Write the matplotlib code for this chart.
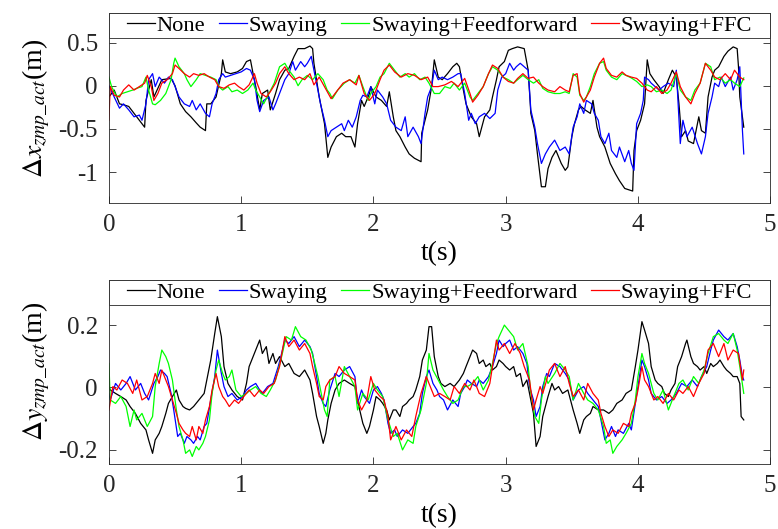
# ZMP deviation comparison, two panels (x and y)
import numpy as np
import matplotlib.pyplot as plt
from matplotlib.patches import Rectangle

plt.rcParams['font.family'] = ['Liberation Serif', 'DejaVu Serif']
plt.rcParams['mathtext.fontset'] = 'stix'

labels = ["None", "Swaying", "Swaying+Feedforward", "Swaying+FFC"]
colors = ["#000000", "#0000ff", "#00ff00", "#ff0000"]

# ---- delta x zmp (m), (t, value) pairs ----
dx_none = [(0, -0.13), (0.04, -0.05), (0.08, -0.21), (0.11, -0.22), (0.15, -0.24), (0.19, -0.32),
           (0.23, -0.40), (0.27, -0.48), (0.28, -0.17), (0.32, 0.07), (0.34, -0.13), (0.40, 0.07),
           (0.47, 0.085), (0.50, 0.0), (0.54, -0.21), (0.58, -0.30), (0.62, -0.36), (0.66, -0.43),
           (0.69, -0.48), (0.73, -0.52), (0.74, -0.21), (0.77, -0.21), (0.81, -0.13), (0.85, 0.14),
           (0.86, 0.30), (0.88, 0.16), (0.92, 0.14), (0.97, 0.16), (1.01, 0.20), (1.04, 0.28),
           (1.07, 0.30), (1.09, 0.14), (1.11, -0.01), (1.14, -0.28), (1.16, -0.09), (1.20, -0.05),
           (1.22, -0.28), (1.26, -0.09), (1.29, 0.07), (1.33, 0.18), (1.36, 0.20), (1.40, 0.34),
           (1.43, 0.43), (1.48, 0.43), (1.52, 0.46), (1.54, 0.43), (1.55, 0.26), (1.59, -0.13),
           (1.63, -0.44), (1.655, -0.83), (1.68, -0.71), (1.72, -0.59), (1.76, -0.55), (1.79, -0.59),
           (1.83, -0.59), (1.86, -0.71), (1.88, -0.44), (1.91, -0.17), (1.93, -0.24), (1.97, -0.09),
           (1.98, -0.01), (2.02, -0.13), (2.06, -0.17), (2.10, -0.24), (2.12, -0.07), (2.15, -0.36),
           (2.17, -0.52), (2.20, -0.59), (2.24, -0.71), (2.27, -0.79), (2.31, -0.84), (2.36, -0.88),
           (2.365, -0.55), (2.39, -0.40), (2.41, -0.28), (2.44, -0.01), (2.46, 0.30), (2.49, 0.10),
           (2.52, 0.07), (2.56, 0.14), (2.60, 0.22), (2.63, 0.26), (2.65, 0.22), (2.68, -0.05),
           (2.70, -0.21), (2.74, -0.36), (2.78, -0.44), (2.80, -0.59), (2.84, -0.36), (2.88, -0.28),
           (2.90, -0.13), (2.93, 0.07), (2.95, 0.22), (2.99, 0.28), (3.02, 0.41), (3.05, 0.43),
           (3.09, 0.45), (3.14, 0.43), (3.17, 0.18), (3.19, -0.32), (3.22, -0.52), (3.24, -0.79),
           (3.27, -1.17), (3.30, -1.17), (3.32, -0.96), (3.35, -0.83), (3.38, -0.75), (3.42, -0.90),
           (3.45, -0.98), (3.47, -0.94), (3.50, -0.59), (3.52, -0.44), (3.55, -0.28), (3.57, -0.24),
           (3.60, -0.28), (3.64, -0.32), (3.66, -0.17), (3.69, -0.48), (3.71, -0.59), (3.75, -0.71),
           (3.79, -0.90), (3.83, -1.02), (3.86, -1.10), (3.90, -1.19), (3.96, -1.22), (3.97, -0.75),
           (3.99, -0.52), (4.02, -0.40), (4.05, -0.21), (4.07, 0.30), (4.09, 0.14), (4.12, 0.07),
           (4.16, -0.01), (4.19, -0.09), (4.23, 0.07), (4.26, 0.18), (4.29, 0.10), (4.31, -0.21),
           (4.33, -0.59), (4.36, -0.52), (4.38, -0.64), (4.42, -0.67), (4.46, -0.36), (4.48, -0.52),
           (4.51, -0.55), (4.53, -0.13), (4.56, 0.10), (4.58, 0.18), (4.61, 0.22), (4.65, 0.34),
           (4.68, 0.40), (4.72, 0.45), (4.75, 0.43), (4.76, 0.22), (4.77, -0.13), (4.80, -0.48)]

dx_sway = [(0, 0.0), (0.04, -0.13), (0.08, -0.26), (0.11, -0.21), (0.15, -0.28), (0.19, -0.36),
           (0.23, -0.34), (0.25, -0.40), (0.28, -0.21), (0.30, 0.07), (0.33, 0.14), (0.35, -0.01),
           (0.38, 0.10), (0.42, 0.03), (0.45, 0.10), (0.48, 0.07), (0.50, -0.01), (0.53, -0.13),
           (0.57, -0.21), (0.61, -0.24), (0.63, -0.17), (0.66, -0.28), (0.69, -0.21), (0.73, -0.32),
           (0.76, -0.36), (0.78, -0.21), (0.81, -0.09), (0.83, 0.07), (0.86, 0.14), (0.88, 0.10),
           (0.92, 0.12), (0.96, 0.14), (1.00, 0.16), (1.04, 0.20), (1.07, 0.18), (1.10, 0.07),
           (1.12, -0.17), (1.14, -0.30), (1.17, -0.17), (1.21, -0.13), (1.24, -0.28), (1.26, -0.21),
           (1.29, -0.09), (1.33, 0.07), (1.36, 0.14), (1.39, 0.28), (1.41, 0.18), (1.45, 0.28),
           (1.48, 0.22), (1.50, 0.26), (1.53, 0.34), (1.55, 0.18), (1.58, -0.05), (1.60, -0.21),
           (1.63, -0.40), (1.655, -0.59), (1.68, -0.52), (1.72, -0.48), (1.76, -0.44), (1.78, -0.52),
           (1.81, -0.40), (1.84, -0.48), (1.87, -0.36), (1.90, -0.17), (1.92, -0.11), (1.95, -0.13),
           (1.98, -0.01), (2.01, -0.21), (2.03, -0.05), (2.07, -0.13), (2.10, -0.21), (2.13, -0.40),
           (2.17, -0.48), (2.21, -0.52), (2.24, -0.36), (2.26, -0.59), (2.30, -0.48), (2.34, -0.59),
           (2.36, -0.67), (2.39, -0.32), (2.41, -0.13), (2.44, -0.01), (2.46, 0.18), (2.49, 0.07),
           (2.52, 0.10), (2.56, 0.07), (2.60, 0.10), (2.64, 0.14), (2.66, 0.14), (2.69, -0.09),
           (2.72, -0.40), (2.74, -0.32), (2.77, -0.44), (2.80, -0.36), (2.84, -0.32), (2.88, -0.38),
           (2.92, -0.32), (2.94, -0.05), (2.97, 0.10), (3.00, 0.14), (3.03, 0.26), (3.06, 0.18),
           (3.08, 0.22), (3.11, 0.26), (3.14, 0.22), (3.17, 0.18), (3.19, -0.28), (3.22, -0.48),
           (3.24, -0.67), (3.27, -0.90), (3.30, -0.79), (3.33, -0.71), (3.37, -0.63), (3.41, -0.75),
           (3.45, -0.71), (3.48, -0.79), (3.51, -0.48), (3.54, -0.36), (3.56, -0.21), (3.59, -0.32),
           (3.61, -0.17), (3.65, -0.21), (3.67, -0.32), (3.70, -0.40), (3.72, -0.59), (3.75, -0.67),
           (3.78, -0.55), (3.80, -0.75), (3.84, -0.83), (3.86, -0.71), (3.90, -0.88), (3.93, -0.75),
           (3.95, -0.90), (3.97, -0.98), (3.99, -0.44), (4.02, -0.32), (4.04, -0.17), (4.05, 0.10),
           (4.08, 0.07), (4.10, 0.03), (4.16, -0.05), (4.19, -0.01), (4.23, 0.03), (4.27, -0.01),
           (4.29, 0.18), (4.32, -0.67), (4.34, -0.40), (4.37, -0.59), (4.41, -0.48), (4.45, -0.67),
           (4.48, -0.79), (4.51, -0.59), (4.53, -0.32), (4.56, -0.13), (4.58, 0.03), (4.61, -0.01),
           (4.63, 0.10), (4.66, -0.01), (4.70, 0.10), (4.72, -0.05), (4.75, 0.07), (4.77, 0.22),
           (4.79, -0.52), (4.80, -0.79)]

dx_ff = [(0, 0.10), (0.02, -0.01), (0.06, -0.13), (0.10, -0.09), (0.14, -0.07), (0.18, -0.05),
         (0.21, -0.03), (0.25, -0.01), (0.28, 0.10), (0.30, -0.05), (0.33, -0.21), (0.35, -0.22),
         (0.39, -0.17), (0.43, -0.09), (0.47, 0.07), (0.49, 0.26), (0.50, 0.32), (0.53, 0.22),
         (0.57, 0.14), (0.59, 0.07), (0.62, -0.01), (0.66, 0.07), (0.69, 0.14), (0.73, 0.12),
         (0.77, 0.10), (0.81, 0.07), (0.83, -0.01), (0.86, -0.05), (0.90, -0.01), (0.93, -0.07),
         (0.97, -0.05), (1.01, -0.09), (1.05, -0.05), (1.09, 0.03), (1.11, -0.05), (1.14, -0.13),
         (1.17, -0.21), (1.21, -0.09), (1.25, 0.03), (1.29, 0.22), (1.33, 0.26), (1.36, 0.18),
         (1.40, 0.10), (1.43, 0.0), (1.46, 0.07), (1.50, 0.12), (1.54, 0.07), (1.58, 0.14),
         (1.62, 0.07), (1.65, -0.05), (1.67, -0.09), (1.69, -0.15), (1.73, -0.05), (1.78, 0.03),
         (1.82, 0.07), (1.86, 0.03), (1.89, 0.12), (1.92, -0.01), (1.96, -0.17), (1.98, -0.09),
         (2.02, -0.01), (2.05, 0.10), (2.08, 0.14), (2.12, 0.26), (2.16, 0.18), (2.20, 0.10),
         (2.24, 0.14), (2.27, 0.10), (2.31, 0.14), (2.35, 0.07), (2.39, 0.10), (2.42, 0.03),
         (2.46, -0.09), (2.50, -0.09), (2.54, -0.01), (2.58, -0.03), (2.61, 0.03), (2.65, -0.05),
         (2.69, 0.03), (2.73, -0.13), (2.75, -0.17), (2.79, -0.09), (2.83, -0.01), (2.87, 0.14),
         (2.90, 0.22), (2.94, 0.18), (2.98, 0.10), (3.02, 0.07), (3.06, 0.03), (3.09, 0.07),
         (3.13, 0.12), (3.17, 0.07), (3.21, 0.03), (3.25, 0.07), (3.28, -0.03), (3.32, -0.07),
         (3.37, -0.09), (3.41, -0.09), (3.45, -0.07), (3.48, -0.09), (3.51, 0.14), (3.54, 0.10),
         (3.56, -0.11), (3.59, -0.17), (3.61, -0.13), (3.64, -0.01), (3.67, 0.14), (3.71, 0.26),
         (3.74, 0.28), (3.76, 0.18), (3.80, 0.10), (3.84, 0.07), (3.88, 0.14), (3.91, 0.12),
         (3.95, 0.09), (3.99, 0.05), (4.03, -0.01), (4.07, 0.01), (4.10, -0.01), (4.14, -0.07),
         (4.18, -0.05), (4.22, -0.09), (4.25, -0.05), (4.29, 0.14), (4.32, -0.05), (4.36, -0.13),
         (4.40, -0.17), (4.43, -0.05), (4.47, 0.03), (4.51, 0.26), (4.55, 0.22), (4.58, 0.07),
         (4.62, 0.10), (4.66, 0.03), (4.70, 0.07), (4.73, 0.03), (4.77, -0.01), (4.80, 0.09)]

dx_ffc = [(0, -0.40), (0.01, -0.01), (0.04, -0.11), (0.08, -0.13), (0.11, -0.05), (0.15, 0.01),
          (0.19, -0.05), (0.23, -0.01), (0.27, 0.03), (0.29, 0.12), (0.32, -0.01), (0.34, -0.17),
          (0.37, -0.09), (0.40, 0.03), (0.44, 0.07), (0.48, 0.14), (0.50, 0.24), (0.53, 0.20),
          (0.57, 0.14), (0.61, 0.10), (0.64, 0.14), (0.68, 0.12), (0.72, 0.14), (0.76, 0.10),
          (0.80, 0.07), (0.83, -0.01), (0.87, -0.03), (0.91, 0.01), (0.95, 0.03), (0.98, -0.01),
          (1.02, -0.05), (1.06, 0.01), (1.10, 0.14), (1.12, 0.03), (1.15, -0.09), (1.19, -0.13),
          (1.22, -0.07), (1.26, 0.03), (1.29, 0.14), (1.33, 0.22), (1.36, 0.14), (1.40, 0.07),
          (1.44, 0.10), (1.48, 0.07), (1.52, 0.14), (1.55, 0.01), (1.59, 0.10), (1.63, -0.01),
          (1.66, -0.09), (1.68, -0.15), (1.73, -0.05), (1.77, 0.03), (1.82, 0.07), (1.87, 0.01),
          (1.89, 0.12), (1.93, -0.09), (1.97, -0.17), (2.01, -0.09), (2.05, 0.07), (2.08, 0.18),
          (2.12, 0.24), (2.16, 0.16), (2.21, 0.10), (2.26, 0.14), (2.31, 0.12), (2.36, 0.07),
          (2.41, 0.10), (2.45, -0.01), (2.49, -0.01), (2.54, 0.01), (2.59, 0.05), (2.64, -0.01),
          (2.69, 0.085), (2.73, -0.09), (2.75, -0.19), (2.79, -0.11), (2.83, -0.01), (2.87, 0.14),
          (2.90, 0.24), (2.94, 0.20), (2.98, 0.10), (3.02, 0.05), (3.06, 0.03), (3.09, 0.085),
          (3.13, 0.14), (3.17, 0.085), (3.21, 0.10), (3.25, 0.03), (3.28, -0.01), (3.32, -0.05),
          (3.37, -0.07), (3.41, -0.01), (3.45, -0.05), (3.48, -0.07), (3.51, 0.12), (3.54, 0.14),
          (3.56, -0.09), (3.59, -0.19), (3.61, -0.13), (3.64, -0.05), (3.67, 0.10), (3.71, 0.26),
          (3.74, 0.32), (3.76, 0.20), (3.80, 0.12), (3.84, 0.10), (3.88, 0.16), (3.91, 0.12),
          (3.95, 0.10), (3.99, 0.085), (4.03, 0.03), (4.07, -0.05), (4.10, -0.07), (4.14, -0.01),
          (4.18, -0.09), (4.22, -0.05), (4.25, 0.03), (4.29, 0.16), (4.32, -0.01), (4.36, -0.13),
          (4.40, -0.21), (4.43, -0.09), (4.47, 0.03), (4.51, 0.26), (4.55, 0.18), (4.58, 0.10),
          (4.62, 0.07), (4.66, 0.14), (4.70, 0.07), (4.73, 0.18), (4.77, 0.10), (4.80, 0.07)]

# ---- delta y zmp (m) ----
dy_none = [(0.0, 0.003), (0.01, -0.008), (0.05, -0.019), (0.09, -0.029), (0.13, -0.040), (0.16, -0.061),
           (0.20, -0.083), (0.24, -0.115), (0.28, -0.136), (0.30, -0.168), (0.33, -0.211), (0.35, -0.168),
           (0.38, -0.147), (0.40, -0.125), (0.43, -0.083), (0.45, -0.051), (0.48, -0.029), (0.51, -0.008),
           (0.53, -0.040), (0.56, -0.061), (0.58, -0.067), (0.61, -0.072), (0.64, -0.061), (0.68, -0.040),
           (0.72, -0.019), (0.74, 0.024), (0.77, 0.088), (0.80, 0.173), (0.82, 0.227), (0.85, 0.163),
           (0.87, 0.067), (0.90, 0.013), (0.93, -0.008), (0.97, -0.029), (1.01, -0.040), (1.04, 0.013),
           (1.06, 0.067), (1.09, 0.099), (1.11, 0.120), (1.14, 0.152), (1.16, 0.109), (1.19, 0.131),
           (1.21, 0.077), (1.24, 0.109), (1.26, 0.077), (1.29, 0.099), (1.33, 0.067), (1.36, 0.077),
           (1.40, 0.045), (1.44, 0.035), (1.48, 0.056), (1.52, 0.024), (1.54, -0.019), (1.57, -0.093),
           (1.59, -0.125), (1.62, -0.179), (1.64, -0.147), (1.655, -0.104), (1.68, -0.051), (1.71, -0.008),
           (1.74, 0.013), (1.78, 0.024), (1.82, 0.013), (1.86, 0.003), (1.89, -0.061), (1.92, -0.115),
           (1.95, -0.147), (1.97, -0.125), (2.00, -0.072), (2.02, -0.029), (2.05, -0.040), (2.07, -0.051),
           (2.10, -0.072), (2.12, -0.104), (2.15, -0.072), (2.17, -0.072), (2.20, -0.093), (2.22, -0.061),
           (2.25, -0.051), (2.27, -0.040), (2.30, -0.029), (2.32, -0.008), (2.35, 0.035), (2.37, 0.088),
           (2.40, 0.120), (2.42, 0.195), (2.44, 0.195), (2.46, 0.099), (2.49, 0.035), (2.51, 0.013),
           (2.54, 0.003), (2.58, 0.013), (2.61, 0.003), (2.65, 0.024), (2.68, 0.045), (2.70, 0.067),
           (2.73, 0.099), (2.75, 0.120), (2.78, 0.109), (2.80, 0.077), (2.83, 0.088), (2.85, 0.067),
           (2.88, 0.077), (2.90, 0.056), (2.93, 0.067), (2.95, 0.088), (2.98, 0.077), (3.00, 0.067),
           (3.03, 0.056), (3.06, 0.067), (3.08, 0.035), (3.11, 0.045), (3.13, 0.003), (3.16, 0.024),
           (3.18, -0.019), (3.21, -0.083), (3.23, -0.189), (3.26, -0.157), (3.28, -0.093), (3.30, -0.061),
           (3.32, -0.029), (3.35, 0.013), (3.37, -0.008), (3.40, 0.003), (3.43, -0.019), (3.47, -0.008),
           (3.51, -0.072), (3.54, -0.115), (3.56, -0.147), (3.59, -0.104), (3.61, -0.093), (3.64, -0.083),
           (3.66, -0.061), (3.70, -0.072), (3.74, -0.072), (3.78, -0.083), (3.81, -0.072), (3.84, -0.051),
           (3.88, -0.040), (3.91, -0.019), (3.95, -0.008), (3.98, 0.067), (4.00, 0.120), (4.03, 0.211),
           (4.05, 0.184), (4.08, 0.141), (4.10, 0.067), (4.13, 0.024), (4.15, 0.013), (4.18, 0.003),
           (4.20, -0.019), (4.23, -0.029), (4.25, -0.008), (4.28, 0.013), (4.30, 0.067), (4.33, 0.099),
           (4.36, 0.141), (4.37, 0.152), (4.40, 0.099), (4.42, 0.077), (4.45, 0.067), (4.47, 0.056),
           (4.50, 0.067), (4.52, 0.045), (4.55, 0.077), (4.57, 0.067), (4.60, 0.077), (4.62, 0.088),
           (4.65, 0.067), (4.67, 0.056), (4.70, 0.045), (4.72, 0.035), (4.75, 0.035), (4.77, 0.013),
           (4.78, -0.093), (4.80, -0.104)]

dy_sway = [(0.0, -0.019), (0.01, -0.040), (0.05, 0.013), (0.09, -0.008), (0.13, 0.013), (0.16, 0.035),
           (0.20, -0.008), (0.24, 0.013), (0.27, -0.019), (0.30, -0.040), (0.34, 0.013), (0.37, 0.035),
           (0.39, 0.056), (0.42, 0.045), (0.44, 0.035), (0.47, -0.019), (0.49, -0.072), (0.52, -0.157),
           (0.54, -0.147), (0.57, -0.179), (0.59, -0.157), (0.62, -0.168), (0.64, -0.179), (0.67, -0.157),
           (0.69, -0.168), (0.72, -0.125), (0.74, -0.115), (0.77, -0.040), (0.80, 0.035), (0.82, 0.120),
           (0.85, 0.045), (0.87, 0.003), (0.90, -0.029), (0.93, -0.019), (0.97, -0.040), (1.01, -0.029),
           (1.04, -0.008), (1.07, 0.003), (1.11, 0.013), (1.14, -0.008), (1.16, -0.019), (1.20, 0.003),
           (1.24, 0.013), (1.28, 0.067), (1.30, 0.099), (1.33, 0.152), (1.36, 0.141), (1.40, 0.163),
           (1.44, 0.131), (1.48, 0.152), (1.52, 0.131), (1.54, 0.109), (1.57, 0.035), (1.59, -0.019),
           (1.62, -0.051), (1.64, -0.061), (1.67, -0.008), (1.71, 0.045), (1.74, 0.035), (1.78, 0.056),
           (1.82, 0.067), (1.86, 0.035), (1.88, -0.051), (1.91, -0.008), (1.93, -0.029), (1.97, -0.051),
           (2.00, -0.008), (2.03, 0.003), (2.06, -0.019), (2.08, -0.040), (2.11, -0.115), (2.13, -0.147),
           (2.16, -0.136), (2.18, -0.157), (2.22, -0.136), (2.26, -0.147), (2.30, -0.125), (2.32, -0.115),
           (2.35, -0.083), (2.37, -0.019), (2.40, 0.035), (2.42, 0.056), (2.45, 0.013), (2.48, -0.008),
           (2.50, -0.029), (2.53, -0.040), (2.56, -0.072), (2.60, -0.040), (2.64, -0.061), (2.66, -0.019),
           (2.69, 0.003), (2.71, 0.024), (2.74, 0.013), (2.78, 0.003), (2.80, 0.024), (2.83, 0.013),
           (2.87, 0.035), (2.90, 0.067), (2.93, 0.109), (2.95, 0.152), (2.98, 0.131), (3.00, 0.141),
           (3.03, 0.152), (3.06, 0.120), (3.09, 0.131), (3.13, 0.109), (3.16, 0.077), (3.18, 0.003),
           (3.21, -0.040), (3.23, -0.093), (3.26, -0.061), (3.28, 0.003), (3.31, 0.045), (3.33, 0.035),
           (3.37, 0.077), (3.41, 0.067), (3.45, 0.045), (3.48, 0.024), (3.51, -0.040), (3.55, -0.008),
           (3.59, 0.003), (3.62, -0.019), (3.66, -0.040), (3.70, -0.061), (3.72, -0.104), (3.75, -0.168),
           (3.78, -0.147), (3.80, -0.125), (3.83, -0.157), (3.85, -0.136), (3.89, -0.147), (3.93, -0.115),
           (3.95, -0.136), (3.98, -0.051), (4.00, 0.003), (4.03, 0.088), (4.05, 0.067), (4.08, 0.024),
           (4.10, -0.019), (4.14, -0.040), (4.18, -0.029), (4.22, -0.051), (4.25, -0.040), (4.29, -0.019),
           (4.33, 0.013), (4.37, 0.003), (4.41, 0.024), (4.45, 0.003), (4.48, 0.035), (4.52, 0.067),
           (4.55, 0.120), (4.57, 0.152), (4.61, 0.184), (4.65, 0.163), (4.68, 0.152), (4.72, 0.173),
           (4.75, 0.131), (4.77, 0.088), (4.79, 0.035), (4.80, 0.024)]

dy_ff = [(0.0, 0.077), (0.01, -0.040), (0.05, -0.051), (0.09, -0.029), (0.13, -0.061), (0.16, -0.125),
         (0.19, -0.072), (0.21, -0.104), (0.25, -0.083), (0.29, -0.125), (0.33, -0.093), (0.35, 0.003),
         (0.38, 0.077), (0.40, 0.120), (0.43, 0.099), (0.45, 0.077), (0.48, 0.024), (0.51, -0.072),
         (0.53, -0.125), (0.56, -0.168), (0.58, -0.211), (0.61, -0.200), (0.63, -0.221), (0.66, -0.189),
         (0.68, -0.200), (0.71, -0.179), (0.73, -0.157), (0.76, -0.104), (0.78, -0.019), (0.81, 0.056),
         (0.83, 0.088), (0.86, 0.045), (0.88, 0.024), (0.91, 0.035), (0.93, 0.056), (0.96, -0.008),
         (1.00, -0.029), (1.04, -0.019), (1.07, -0.008), (1.11, 0.003), (1.15, -0.019), (1.19, -0.029),
         (1.22, -0.008), (1.26, 0.024), (1.30, 0.088), (1.34, 0.163), (1.38, 0.152), (1.41, 0.195),
         (1.45, 0.163), (1.49, 0.152), (1.53, 0.120), (1.55, 0.088), (1.58, 0.035), (1.60, -0.008),
         (1.63, -0.072), (1.65, -0.093), (1.67, 0.024), (1.71, 0.035), (1.74, -0.029), (1.78, 0.067),
         (1.82, 0.035), (1.86, 0.003), (1.88, -0.072), (1.92, -0.019), (1.96, -0.040), (2.00, 0.013),
         (2.03, -0.008), (2.07, -0.029), (2.11, -0.104), (2.15, -0.157), (2.18, -0.147), (2.22, -0.200),
         (2.26, -0.168), (2.30, -0.179), (2.32, -0.125), (2.36, -0.072), (2.40, 0.013), (2.42, 0.109),
         (2.45, 0.056), (2.49, 0.024), (2.53, -0.008), (2.56, -0.029), (2.60, -0.051), (2.64, -0.040),
         (2.68, 0.003), (2.71, 0.003), (2.75, 0.013), (2.79, 0.035), (2.83, -0.008), (2.87, 0.024),
         (2.90, 0.077), (2.93, 0.141), (2.95, 0.163), (2.99, 0.200), (3.02, 0.184), (3.06, 0.163),
         (3.09, 0.120), (3.13, 0.141), (3.17, 0.067), (3.19, -0.019), (3.22, -0.093), (3.25, -0.115),
         (3.27, -0.040), (3.30, 0.035), (3.32, 0.013), (3.37, 0.045), (3.41, 0.077), (3.45, 0.056),
         (3.48, 0.035), (3.51, -0.040), (3.55, 0.013), (3.59, -0.019), (3.62, -0.040), (3.66, -0.051),
         (3.70, -0.072), (3.74, -0.125), (3.76, -0.179), (3.79, -0.168), (3.81, -0.211), (3.84, -0.189),
         (3.88, -0.168), (3.91, -0.147), (3.95, -0.115), (3.98, -0.040), (4.00, 0.035), (4.03, 0.109),
         (4.05, 0.077), (4.08, 0.045), (4.12, -0.019), (4.15, -0.040), (4.19, -0.008), (4.23, -0.072),
         (4.27, -0.029), (4.31, 0.013), (4.34, 0.024), (4.38, -0.008), (4.42, 0.035), (4.46, 0.013),
         (4.50, 0.056), (4.53, 0.109), (4.57, 0.163), (4.61, 0.173), (4.65, 0.152), (4.68, 0.141),
         (4.72, 0.173), (4.75, 0.120), (4.77, 0.067), (4.80, -0.019)]

dy_ffc = [(0.0, -0.072), (0.03, 0.003), (0.06, -0.008), (0.10, 0.024), (0.14, 0.013), (0.18, -0.019),
          (0.21, 0.024), (0.25, -0.040), (0.29, -0.029), (0.33, 0.013), (0.35, 0.045), (0.38, 0.013),
          (0.40, 0.056), (0.43, 0.024), (0.45, 0.003), (0.48, -0.040), (0.51, -0.083), (0.53, -0.115),
          (0.56, -0.136), (0.58, -0.147), (0.61, -0.157), (0.63, -0.125), (0.66, -0.168), (0.68, -0.125),
          (0.71, -0.147), (0.73, -0.104), (0.76, -0.061), (0.78, -0.008), (0.81, 0.045), (0.83, 0.003),
          (0.86, -0.029), (0.88, -0.040), (0.91, -0.061), (0.95, -0.040), (0.98, -0.051), (1.02, -0.029),
          (1.06, -0.008), (1.10, -0.029), (1.14, -0.008), (1.17, -0.019), (1.21, 0.003), (1.25, 0.013),
          (1.29, 0.067), (1.33, 0.163), (1.36, 0.131), (1.40, 0.152), (1.44, 0.120), (1.48, 0.141),
          (1.52, 0.109), (1.54, 0.067), (1.57, 0.013), (1.59, -0.029), (1.62, -0.040), (1.64, 0.003),
          (1.67, 0.024), (1.71, 0.035), (1.74, 0.067), (1.78, 0.045), (1.82, 0.035), (1.86, 0.024),
          (1.88, -0.040), (1.91, -0.072), (1.95, -0.040), (1.98, 0.035), (2.01, -0.008), (2.05, -0.029),
          (2.08, -0.040), (2.11, -0.093), (2.13, -0.168), (2.17, -0.125), (2.21, -0.168), (2.25, -0.136),
          (2.29, -0.157), (2.32, -0.093), (2.36, -0.019), (2.40, 0.035), (2.42, 0.013), (2.46, -0.029),
          (2.50, -0.019), (2.54, -0.029), (2.58, -0.040), (2.61, 0.003), (2.65, -0.019), (2.69, 0.013),
          (2.73, -0.008), (2.76, 0.024), (2.80, -0.019), (2.84, -0.029), (2.88, 0.013), (2.90, 0.067),
          (2.93, 0.152), (2.95, 0.120), (2.99, 0.141), (3.03, 0.109), (3.07, 0.141), (3.11, 0.109),
          (3.14, 0.067), (3.18, 0.024), (3.21, -0.072), (3.23, -0.040), (3.26, 0.003), (3.28, -0.019),
          (3.31, 0.024), (3.33, 0.056), (3.37, 0.077), (3.41, 0.035), (3.45, 0.067), (3.48, 0.013),
          (3.51, -0.029), (3.55, -0.008), (3.59, -0.040), (3.62, 0.013), (3.66, -0.019), (3.70, -0.040),
          (3.72, -0.083), (3.75, -0.125), (3.78, -0.157), (3.81, -0.136), (3.85, -0.147), (3.89, -0.115),
          (3.93, -0.125), (3.95, -0.083), (3.98, -0.051), (4.00, -0.008), (4.03, 0.067), (4.05, 0.024),
          (4.08, 0.003), (4.12, -0.040), (4.15, -0.029), (4.19, -0.051), (4.23, -0.019), (4.27, -0.040),
          (4.31, -0.008), (4.34, -0.019), (4.38, 0.003), (4.42, -0.029), (4.46, 0.013), (4.50, 0.045),
          (4.53, 0.120), (4.57, 0.141), (4.61, 0.099), (4.65, 0.141), (4.68, 0.088), (4.72, 0.120),
          (4.76, 0.109), (4.79, 0.024), (4.80, 0.056)]

x_ticks = [0, 1, 2, 3, 4, 5]
dx_ticks = [-1, -0.5, 0, 0.5]
dy_ticks = [-0.2, 0, 0.2]

fig = plt.figure(figsize=(7.78, 5.29), dpi=100)
ax1 = fig.add_axes([0.140, 0.616, 0.850, 0.359])
ax2 = fig.add_axes([0.140, 0.123, 0.850, 0.348])

panels = [
    (ax1, [dx_none, dx_sway, dx_ff, dx_ffc], (-1.36, 0.84), dx_ticks, ['-1', '-0.5', '0', '0.5'],
     r'$\Delta x_{zmp\_act}$(m)', -0.20),
    (ax2, [dy_none, dy_sway, dy_ff, dy_ffc], (-0.245, 0.345), dy_ticks, ['-0.2', '0', '0.2'],
     r'$\Delta y_{zmp\_act}$(m)', -0.212),
]

for ax, series, ylim, yt, ytl, ylab, xlab_y in panels:
    for s, c, lab in zip(series, colors, labels):
        arr = np.array(s)
        ax.plot(arr[:, 0], arr[:, 1], color=c, lw=0.9, label=lab)
    ax.set_xlim(0, 5)
    ax.set_ylim(*ylim)
    ax.set_xticks(x_ticks)
    ax.set_xticklabels([str(t) for t in x_ticks])
    ax.set_yticks(yt)
    ax.set_yticklabels(ytl)
    ax.tick_params(direction='in', top=True, right=True, length=5, width=0.6,
                   labelsize=18, pad=8, colors='#262626')
    for sp in ax.spines.values():
        sp.set_linewidth(0.6)
        sp.set_color('#262626')
    ax.set_xlabel('t(s)', fontsize=20)
    ax.xaxis.set_label_coords(0.5, xlab_y)
    ax.set_ylabel(ylab, fontsize=20, va='center')
    ax.yaxis.set_label_coords(-0.11, 0.5)

    # legend strip across the top of the axes (25 px high)
    h = 25 / (ax.get_position().height * 529)
    ax.add_patch(Rectangle((0, 1 - h), 1, h, transform=ax.transAxes, facecolor='white',
                           edgecolor='#262626', lw=0.6, zorder=4, clip_on=False))
    leg = ax.legend(loc='center', bbox_to_anchor=(0.5, 1 - h / 2), ncol=4, frameon=False,
                    fontsize=16.2, handlelength=1.24, handletextpad=0.08, columnspacing=0.62,
                    borderaxespad=0, borderpad=0)
    leg.set_zorder(5)

fig.savefig('out.png', dpi=100)
